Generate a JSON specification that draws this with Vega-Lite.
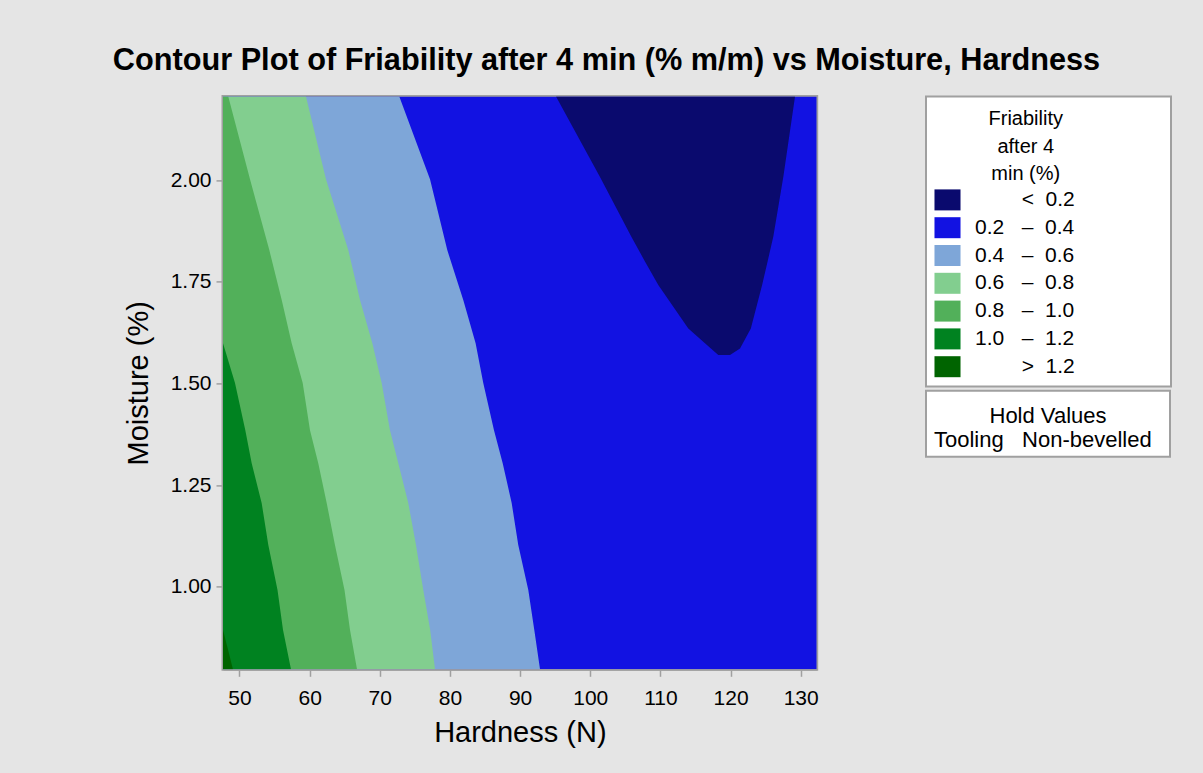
{
  "$schema": "https://vega.github.io/schema/vega-lite/v6.json",
  "autosize": "none",
  "width": 593.7,
  "height": 572.9,
  "padding": {"left": 223, "top": 96.4, "right": 386.3, "bottom": 103.7},
  "background": "#e5e5e5",
  "config": {
    "font": "Liberation Sans",
    "view": {"stroke": "#a0a0a0", "strokeWidth": 3},
    "legend": {"strokeWidth": 2},
    "axis": {
      "labelFont": "Liberation Sans", "labelFontSize": 21, "labelColor": "#000000",
      "titleFont": "Liberation Sans", "titleFontSize": 29, "titleFontWeight": "normal", "titleColor": "#000000",
      "domainColor": "#a0a0a0", "domainWidth": 2, "tickColor": "#a0a0a0", "tickWidth": 1.5, "tickSize": 7,
      "grid": false, "labelFlush": false, "labelOverlap": false
    },
    "axisX": {"labelPadding": 10.7, "titlePadding": 10.5},
    "axisY": {"labelPadding": 5, "titlePadding": 16.5}
  },
  "title": {
    "text": "Contour Plot of Friability after 4 min (% m/m) vs Moisture, Hardness",
    "font": "Liberation Sans", "fontSize": 30.7, "fontWeight": "bold", "color": "#000000",
    "anchor": "middle", "dx": 86.6, "dy": 32, "baseline": "alphabetic", "offset": 27
  },
  "data": {"values": [
    {"band": "0.2 – 0.4", "y": 0.797, "xl": 47.65, "xr": 132.28},
    {"band": "0.2 – 0.4", "y": 2.206, "xl": 47.65, "xr": 132.28},
    {"band": "0.4 – 0.6", "y": 0.797, "xl": 47.65, "xr": 92.84},
    {"band": "0.4 – 0.6", "y": 0.894, "xl": 47.65, "xr": 92.02},
    {"band": "0.4 – 0.6", "y": 0.992, "xl": 47.65, "xr": 91.17},
    {"band": "0.4 – 0.6", "y": 1.103, "xl": 47.65, "xr": 89.74},
    {"band": "0.4 – 0.6", "y": 1.206, "xl": 47.65, "xr": 88.80},
    {"band": "0.4 – 0.6", "y": 1.304, "xl": 47.65, "xr": 87.52},
    {"band": "0.4 – 0.6", "y": 1.385, "xl": 47.65, "xr": 86.28},
    {"band": "0.4 – 0.6", "y": 1.501, "xl": 47.65, "xr": 84.75},
    {"band": "0.4 – 0.6", "y": 1.599, "xl": 47.65, "xr": 83.66},
    {"band": "0.4 – 0.6", "y": 1.705, "xl": 47.65, "xr": 81.90},
    {"band": "0.4 – 0.6", "y": 1.828, "xl": 47.65, "xr": 79.62},
    {"band": "0.4 – 0.6", "y": 2.002, "xl": 47.65, "xr": 77.16},
    {"band": "0.4 – 0.6", "y": 2.206, "xl": 47.65, "xr": 72.78},
    {"band": "0.6 – 0.8", "y": 0.797, "xl": 47.65, "xr": 77.87},
    {"band": "0.6 – 0.8", "y": 0.894, "xl": 47.65, "xr": 77.18},
    {"band": "0.6 – 0.8", "y": 0.992, "xl": 47.65, "xr": 76.20},
    {"band": "0.6 – 0.8", "y": 1.103, "xl": 47.65, "xr": 75.16},
    {"band": "0.6 – 0.8", "y": 1.206, "xl": 47.65, "xr": 74.06},
    {"band": "0.6 – 0.8", "y": 1.304, "xl": 47.65, "xr": 72.64},
    {"band": "0.6 – 0.8", "y": 1.385, "xl": 47.65, "xr": 71.45},
    {"band": "0.6 – 0.8", "y": 1.501, "xl": 47.65, "xr": 70.27},
    {"band": "0.6 – 0.8", "y": 1.599, "xl": 47.65, "xr": 68.94},
    {"band": "0.6 – 0.8", "y": 1.705, "xl": 47.65, "xr": 67.18},
    {"band": "0.6 – 0.8", "y": 1.828, "xl": 47.65, "xr": 65.51},
    {"band": "0.6 – 0.8", "y": 2.002, "xl": 47.65, "xr": 62.33},
    {"band": "0.6 – 0.8", "y": 2.206, "xl": 47.65, "xr": 59.48},
    {"band": "0.8 – 1.0", "y": 0.797, "xl": 47.65, "xr": 66.75},
    {"band": "0.8 – 1.0", "y": 0.894, "xl": 47.65, "xr": 65.75},
    {"band": "0.8 – 1.0", "y": 0.992, "xl": 47.65, "xr": 64.97},
    {"band": "0.8 – 1.0", "y": 1.103, "xl": 47.65, "xr": 63.61},
    {"band": "0.8 – 1.0", "y": 1.206, "xl": 47.65, "xr": 62.43},
    {"band": "0.8 – 1.0", "y": 1.304, "xl": 47.65, "xr": 61.23},
    {"band": "0.8 – 1.0", "y": 1.385, "xl": 47.65, "xr": 60.05},
    {"band": "0.8 – 1.0", "y": 1.501, "xl": 47.65, "xr": 59.01},
    {"band": "0.8 – 1.0", "y": 1.599, "xl": 47.65, "xr": 57.44},
    {"band": "0.8 – 1.0", "y": 1.705, "xl": 47.65, "xr": 56.02},
    {"band": "0.8 – 1.0", "y": 1.828, "xl": 47.65, "xr": 54.25},
    {"band": "0.8 – 1.0", "y": 2.002, "xl": 47.65, "xr": 51.50},
    {"band": "0.8 – 1.0", "y": 2.206, "xl": 47.65, "xr": 48.40},
    {"band": "1.0 – 1.2", "y": 0.797, "xl": 47.65, "xr": 57.34},
    {"band": "1.0 – 1.2", "y": 0.894, "xl": 47.65, "xr": 56.20},
    {"band": "1.0 – 1.2", "y": 0.992, "xl": 47.65, "xr": 55.42},
    {"band": "1.0 – 1.2", "y": 1.103, "xl": 47.65, "xr": 54.11},
    {"band": "1.0 – 1.2", "y": 1.206, "xl": 47.65, "xr": 53.16},
    {"band": "1.0 – 1.2", "y": 1.304, "xl": 47.65, "xr": 51.74},
    {"band": "1.0 – 1.2", "y": 1.385, "xl": 47.65, "xr": 50.83},
    {"band": "1.0 – 1.2", "y": 1.501, "xl": 47.65, "xr": 49.36},
    {"band": "1.0 – 1.2", "y": 1.599, "xl": 47.65, "xr": 47.65},
    {"band": "> 1.2", "y": 0.797, "xl": 47.65, "xr": 49.07},
    {"band": "> 1.2", "y": 0.894, "xl": 47.65, "xr": 47.65},
    {"band": "< 0.2", "y": 1.570, "xl": 118.25, "xr": 119.92},
    {"band": "< 0.2", "y": 1.586, "xl": 117.20, "xr": 121.35},
    {"band": "< 0.2", "y": 1.635, "xl": 113.98, "xr": 122.89},
    {"band": "< 0.2", "y": 1.742, "xl": 109.70, "xr": 124.50},
    {"band": "< 0.2", "y": 1.800, "xl": 107.80, "xr": 125.28},
    {"band": "< 0.2", "y": 1.861, "xl": 105.86, "xr": 126.09},
    {"band": "< 0.2", "y": 2.008, "xl": 101.39, "xr": 127.52},
    {"band": "< 0.2", "y": 2.206, "xl": 95.12, "xr": 129.19}
  ]},
  "layer": [
    {
      "encoding": {
        "y": {"field": "y", "type": "quantitative",
              "scale": {"domain": [0.797, 2.206], "nice": false, "zero": false},
              "axis": {"values": [1, 1.25, 1.5, 1.75, 2], "format": ".2f", "title": "Moisture (%)"}},
        "x": {"field": "xl", "type": "quantitative",
              "scale": {"domain": [47.65, 132.28], "nice": false, "zero": false},
              "axis": {"values": [50, 60, 70, 80, 90, 100, 110, 120, 130], "title": "Hardness (N)"}},
        "x2": {"field": "xr"},
        "color": {"field": "band", "type": "nominal",
          "scale": {
            "domain": ["< 0.2", "0.2 – 0.4", "0.4 – 0.6", "0.6 – 0.8", "0.8 – 1.0", "1.0 – 1.2", "> 1.2"],
            "range": ["#0a0a6e", "#1212e2", "#7ea6d8", "#82ce8f", "#52b05a", "#008220", "#006400"]
          },
          "legend": {
            "title": ["Friability\u00a0\u00a0\u00a0\u00a0\u00a0\u00a0\u00a0\u00a0\u200b", "after 4\u00a0\u00a0\u00a0\u00a0\u00a0\u00a0\u00a0\u00a0\u200b", "min (%)\u00a0\u00a0\u00a0\u00a0\u00a0\u00a0\u00a0\u00a0\u200b"],
            "orient": "none", "legendX": 703, "legendY": 0,
            "padding": 9, "fillColor": "#ffffff", "strokeColor": "#a0a0a0",
            "titleFont": "Liberation Sans", "titleFontSize": 20, "titleFontWeight": "normal", "titleColor": "#000000",
            "titleAnchor": "middle", "titleAlign": "center", "titleBaseline": "line-top", "titleLineHeight": 27.5,
            "titlePadding": 9, "titleLimit": 400,
            "symbolType": "M-1.24,-1H1.24V1H-1.24Z", "symbolSize": 441, "symbolStrokeWidth": 0, "symbolOpacity": 1,
            "symbolOffset": 2, "labelOffset": 17,
            "labelFont": "Liberation Sans", "labelFontSize": 21, "labelColor": "#000000", "labelLimit": 400, "labelBaseline": "middle",
            "rowPadding": 5.8,
            "labelExpr": "{'< 0.2': '\u200b\u00a0\u00a0\u00a0\u00a0\u00a0\u00a0\u00a0\u00a0<\u00a0\u00a00.2', '0.2 – 0.4': '0.2\u00a0\u00a0\u00a0–\u00a0\u00a00.4\u00a0\u00a0\u00a0\u00a0\u00a0\u00a0\u00a0\u00a0\u00a0\u00a0\u00a0\u00a0\u00a0\u00a0\u00a0\u200b', '0.4 – 0.6': '0.4\u00a0\u00a0\u00a0–\u00a0\u00a00.6', '0.6 – 0.8': '0.6\u00a0\u00a0\u00a0–\u00a0\u00a00.8', '0.8 – 1.0': '0.8\u00a0\u00a0\u00a0–\u00a0\u00a01.0', '1.0 – 1.2': '1.0\u00a0\u00a0\u00a0–\u00a0\u00a01.2', '> 1.2': '\u200b\u00a0\u00a0\u00a0\u00a0\u00a0\u00a0\u00a0\u00a0>\u00a0\u00a01.2'}[datum.label]"
          }
        }
      },
      "layer": [
        {"transform": [{"filter": "datum.band === '0.2 – 0.4'"}], "mark": {"type": "area", "orient": "horizontal", "clip": true, "fillOpacity": 1}},
        {"transform": [{"filter": "datum.band === '0.4 – 0.6'"}], "mark": {"type": "area", "orient": "horizontal", "clip": true, "fillOpacity": 1}},
        {"transform": [{"filter": "datum.band === '0.6 – 0.8'"}], "mark": {"type": "area", "orient": "horizontal", "clip": true, "fillOpacity": 1}},
        {"transform": [{"filter": "datum.band === '0.8 – 1.0'"}], "mark": {"type": "area", "orient": "horizontal", "clip": true, "fillOpacity": 1}},
        {"transform": [{"filter": "datum.band === '1.0 – 1.2'"}], "mark": {"type": "area", "orient": "horizontal", "clip": true, "fillOpacity": 1}},
        {"transform": [{"filter": "datum.band === '> 1.2'"}], "mark": {"type": "area", "orient": "horizontal", "clip": true, "fillOpacity": 1}},
        {"transform": [{"filter": "datum.band === '< 0.2'"}], "mark": {"type": "area", "orient": "horizontal", "clip": true, "fillOpacity": 1}}
      ]
    },
    {
      "data": {"values": [{"hold": "Tooling\u00a0\u00a0\u00a0Non-bevelled"}]},
      "mark": {"type": "point", "opacity": 0},
      "encoding": {
        "shape": {"field": "hold", "type": "nominal",
          "legend": {
            "title": "Hold Values",
            "orient": "none", "legendX": 703, "legendY": 294.3,
            "padding": 6, "fillColor": "#ffffff", "strokeColor": "#a0a0a0",
            "titleFont": "Liberation Sans", "titleFontSize": 22, "titleFontWeight": "normal", "titleColor": "#000000",
            "titleAnchor": "middle", "titleAlign": "center", "titleBaseline": "line-top", "titleLineHeight": 39.2,
            "titlePadding": 9.9, "titleLimit": 400,
            "symbolSize": 0, "symbolOpacity": 0, "symbolStrokeWidth": 0, "labelOffset": -20,
            "labelFont": "Liberation Sans", "labelFontSize": 22, "labelColor": "#000000", "labelLimit": 400, "labelBaseline": "middle",
            "labelExpr": "datum.label + '\u00a0\u00a0\u200b'"
          }
        }
      }
    }
  ]
}
